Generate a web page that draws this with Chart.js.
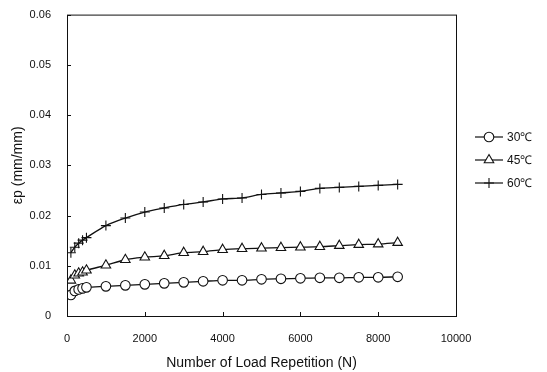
<!DOCTYPE html>
<html>
<head>
<meta charset="utf-8">
<script src="https://cdn.jsdelivr.net/npm/chart.js@4"></script>
<style>
  html, body { margin: 0; padding: 0; background: #fff; }
  #wrap { width: 547px; height: 372px; }
</style>
</head>
<body>
<div id="wrap"><canvas id="c" width="547" height="372"></canvas></div>
<script>
// load repetitions (N)
const reps = [100, 200, 300, 400, 500, 1000, 1500, 2000, 2500, 3000, 3500, 4000, 4500, 5000, 5500, 6000, 6500, 7000, 7500, 8000, 8500];
// permanent strain (mm/mm)
const strain30 = [0.0042, 0.0050, 0.0053, 0.0055, 0.0057, 0.0059, 0.0061, 0.0063, 0.0065, 0.0067, 0.0069, 0.0071, 0.0071, 0.0073, 0.0074, 0.0075, 0.0076, 0.0076, 0.0077, 0.0077, 0.0078];
const strain45 = [0.0071, 0.0081, 0.0085, 0.0087, 0.0091, 0.0101, 0.0112, 0.0117, 0.0120, 0.0126, 0.0128, 0.0132, 0.0134, 0.0135, 0.0136, 0.0137, 0.0138, 0.0140, 0.0142, 0.0143, 0.0146];
const strain60 = [0.0126, 0.0137, 0.0145, 0.0151, 0.0156, 0.0180, 0.0195, 0.0207, 0.0215, 0.0222, 0.0227, 0.0233, 0.0235, 0.0242, 0.0245, 0.0248, 0.0254, 0.0256, 0.0258, 0.0260, 0.0262];
const seriesLabels = ['30\u2103', '45\u2103', '60\u2103'];
const xTicks = [0, 2000, 4000, 6000, 8000, 10000];
const yTicks = [0, 0.01, 0.02, 0.03, 0.04, 0.05, 0.06];

const FONT = 'Liberation Sans, Arial, sans-serif';
Chart.defaults.font.family = FONT;
Chart.defaults.font.size = 11;
Chart.defaults.color = '#111';

function series(label, data, style, radius) {
  return {
    label, data: reps.map((n, i) => ({ x: n, y: data[i] })),
    borderColor: '#111', borderWidth: 1.3, backgroundColor: '#fff',
    pointStyle: style, pointRadius: radius, pointBorderWidth: 1.1,
    pointBackgroundColor: '#fff', pointBorderColor: '#111', tension: 0.3
  };
}

const frame = {
  id: 'frame',
  afterDraw(chart) {
    const { ctx, chartArea: a, scales } = chart;
    ctx.save();
    ctx.strokeStyle = '#111'; ctx.lineWidth = 1;
    ctx.strokeRect(a.left + 0.5, a.top + 0.5, a.right - a.left, a.bottom - a.top);
    ctx.beginPath();
    yTicks.forEach(v => { const y = Math.round(scales.y.getPixelForValue(v)) + 0.5; ctx.moveTo(a.left, y); ctx.lineTo(a.left + 4, y); });
    xTicks.forEach(v => { const x = Math.round(scales.x.getPixelForValue(v)) + 0.5; ctx.moveTo(x, a.bottom); ctx.lineTo(x, a.bottom - 4); });
    ctx.stroke();
    // legend
    ctx.font = '12px ' + FONT; ctx.textBaseline = 'middle';
    chart.data.datasets.forEach((ds, i) => {
      const y = 137 + i * 23, x0 = 475;
      ctx.strokeStyle = '#111';
      ctx.beginPath(); ctx.lineWidth = 1.2; ctx.moveTo(x0, y); ctx.lineTo(x0 + 28, y); ctx.stroke();
      ctx.lineWidth = 1.1; ctx.fillStyle = '#fff';
      Chart.helpers.drawPoint(ctx, { pointStyle: ds.pointStyle, radius: ds.pointRadius, borderWidth: 1.1 }, x0 + 14, y);
      ctx.fillStyle = '#111';
      ctx.fillText(ds.label, x0 + 32, y + 1);
    });
    ctx.restore();
  }
};

new Chart(document.getElementById('c'), {
  type: 'line',
  data: { datasets: [
    series(seriesLabels[0], strain30, 'circle', 4.8),
    series(seriesLabels[1], strain45, 'triangle', 5.5),
    series(seriesLabels[2], strain60, 'cross', 5)
  ] },
  options: {
    responsive: false, animation: false,
    layout: { padding: { left: 0, top: 3, right: 91, bottom: 0 } },
    plugins: { legend: { display: false }, tooltip: { enabled: false } },
    scales: {
      x: {
        type: 'linear', min: 0, max: 10000,
        afterBuildTicks: s => { s.ticks = xTicks.map(v => ({ value: v })); },
        afterFit: s => { s.height = 56; },
        grid: { display: false }, border: { display: false },
        ticks: { padding: 8, maxRotation: 0, callback: v => String(v) },
        title: { display: true, text: 'Number of Load Repetition (N)', font: { size: 14 }, padding: { top: 5, bottom: 0 } }
      },
      y: {
        min: 0, max: 0.06,
        afterBuildTicks: s => { s.ticks = yTicks.map(v => ({ value: v })); },
        afterFit: s => { s.width = 67; },
        grid: { display: false }, border: { display: false },
        ticks: { padding: 8, callback: v => v === 0 ? '0' : v.toFixed(2) },
        title: { display: true, text: '\u03b5p (mm/mm)', font: { size: 14 }, padding: { top: 10, bottom: 4 } }
      }
    }
  },
  plugins: [frame]
});
</script>
</body>
</html>
